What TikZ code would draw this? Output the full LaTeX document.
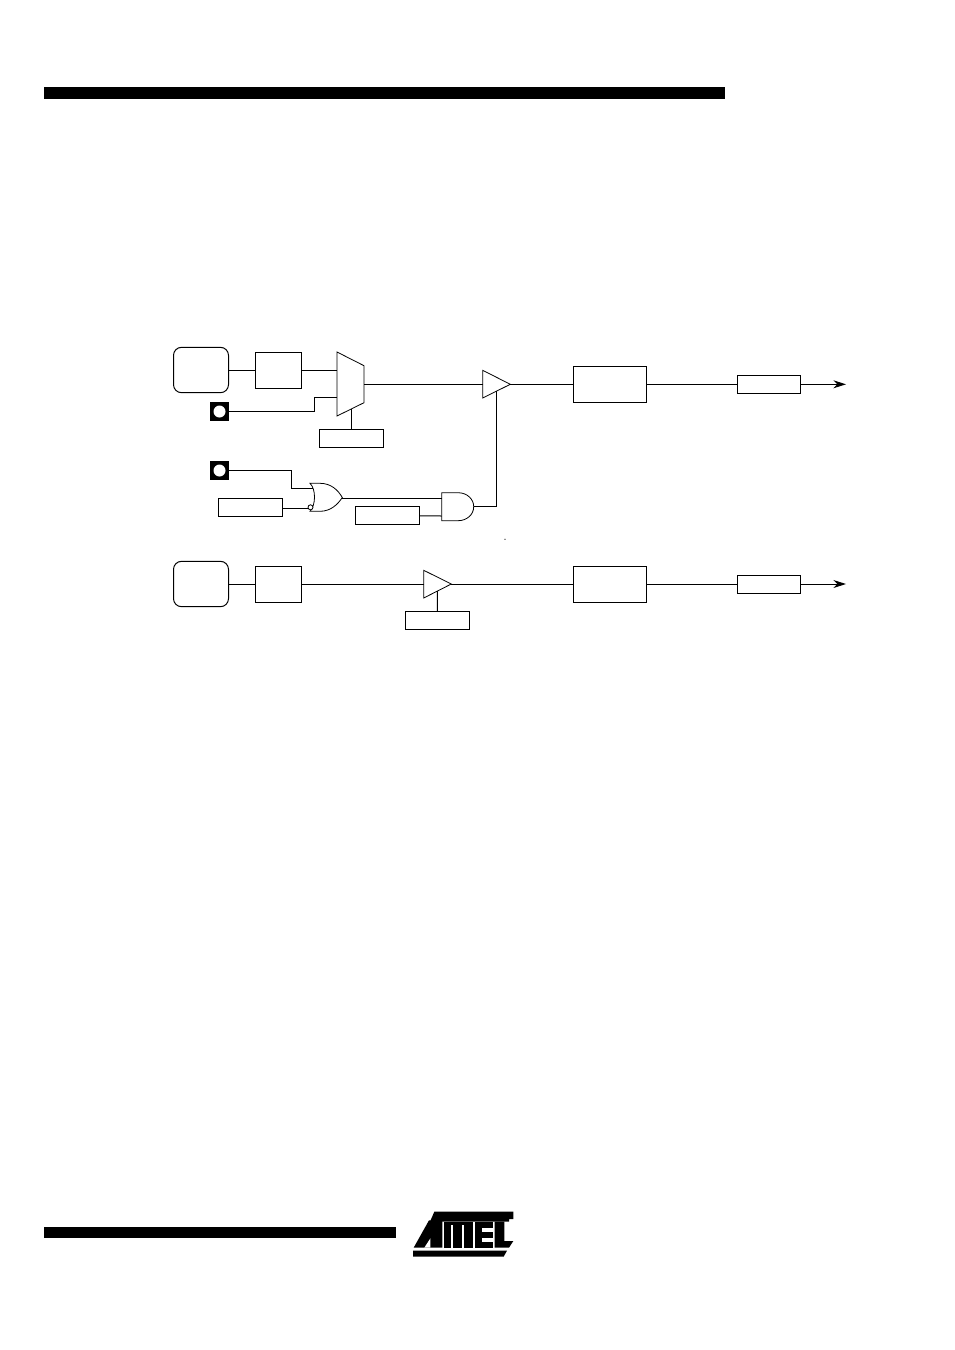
\documentclass[tikz,border=0pt]{standalone}
\usepackage{tikz}
\usepackage{xcolor}
\usetikzlibrary{arrows.meta}
\tikzset{
  blk/.style={draw,line width=0.75pt,inner sep=0pt,outer sep=0pt},
  srcbox/.style={blk,rounded corners=6pt,minimum width=41.25pt,minimum height=34pt},
  regbox/.style={blk,minimum width=34.5pt,minimum height=27pt},
  latchbox/.style={blk,minimum width=55pt,minimum height=27pt},
  ctlbox/.style={blk,minimum width=47.75pt,minimum height=13.5pt},
  padbox/.style={fill=black,inner sep=0pt,outer sep=0pt,minimum size=14.25pt},
  padhole/.style={circle,fill=white,inner sep=0pt,minimum size=9pt},
  wire/.style={line width=0.75pt},
  outwire/.style={wire,-{Stealth[length=9.5pt,width=6pt]}},
  gate/.style={line width=0.6pt,line join=miter}
}
\begin{document}
\begin{tikzpicture}[x=0.75pt,y=-0.75pt]
\useasboundingbox (0,0) rectangle (954,1350);
\fill (44,87) rectangle (725,99);
\fill (44,1227) rectangle (396,1238);
\node[srcbox] (srcA) at (201,370) {};
\node[regbox] (regA) at (278.5,370) {};
\node[padbox] (padA) at (219.5,411.5) {};
\node[padhole] at (padA) {};
\node[ctlbox] (selA) at (351.3,438.3) {};
\node[padbox] (padB) at (219.5,470.5) {};
\node[padhole] at (padB) {};
\node[ctlbox] (ctlA) at (250.8,507.3) {};
\node[ctlbox] (ctlB) at (387.3,515.8) {};
\node[latchbox] (drvA) at (610,384.3) {};
\node[ctlbox] (pinA) at (769,384.3) {};
\node[srcbox] (srcB) at (201,584) {};
\node[regbox] (regB) at (278.5,584) {};
\node[ctlbox] (ctlC) at (437.3,620.3) {};
\node[latchbox] (drvB) at (610,584) {};
\node[ctlbox] (pinB) at (769,584) {};
% mux
\draw[gate] (337,352) -- (364,365.7) -- (364,402.7) -- (337,416) -- cycle;
\coordinate (muxa) at (337,370);
\coordinate (muxb) at (337,397);
\coordinate (muxs) at (351.5,409);
\coordinate (muxo) at (364,384.3);
% buffers
\draw[gate] (482.7,370.3) -- (510.3,384.3) -- (482.7,398) -- cycle;
\coordinate (bufAi) at (482.7,384.3);
\coordinate (bufAo) at (510.3,384.3);
\coordinate (bufAc) at (496.5,391.3);
\draw[gate] (423.7,570.3) -- (451.3,584) -- (423.7,598) -- cycle;
\coordinate (bufBi) at (423.7,584);
\coordinate (bufBo) at (451.3,584);
\coordinate (bufBc) at (437.5,591);
% or gate
\draw[gate] (310,483.3) .. controls (316,489) and (316,505) .. (310,511.3)
  -- (320,511.3) .. controls (331,511.3) and (338,504) .. (342.3,497.5)
  .. controls (338,490) and (331,483.3) .. (320,483.3) -- cycle;
\draw[gate,fill=white] (310.5,507.3) circle (2.5);
\coordinate (orA) at (313,488.7);
\coordinate (orB) at (308,508);
\coordinate (orO) at (342.3,498);
% and gate
\draw[gate] (441.7,492.7) -- (458,492.7) .. controls (467,492.7) and (473.7,499) .. (473.7,506.7)
  .. controls (473.7,514.5) and (467,520.7) .. (458,520.7) -- (441.7,520.7) -- cycle;
\coordinate (andA) at (441.7,498);
\coordinate (andB) at (441.7,516);
\coordinate (andO) at (473.7,506.3);
\draw[wire] (srcA.east) -- (regA.west);
\draw[wire] (regA.east) -- (muxa);
\draw[wire] (padA.east) -- (314.3,411.5) |- (muxb);
\draw[wire] (muxs) -- (muxs |- selA.north);
\draw[wire] (muxo) -- (bufAi);
\draw[wire] (bufAo) -- (drvA.west);
\draw[wire] (drvA.east) -- (pinA.west);
\draw[outwire] (pinA.east) -- (846,384.3);
\draw[wire] (padB.east) -- (291.7,470.5) |- (orA);
\draw[wire] (ctlA.east |- orB) -- (orB);
\draw[wire] (orO) -- (andA);
\draw[wire] (ctlB.east) -- (andB);
\draw[wire] (andO) -| (bufAc);
\draw[wire] (srcB.east) -- (regB.west);
\draw[wire] (regB.east) -- (bufBi);
\draw[wire] (bufBc) -- (ctlC.north);
\draw[wire] (bufBo) -- (drvB.west);
\draw[wire] (drvB.east) -- (pinB.west);
\draw[outwire] (pinB.east) -- (846,584);
\fill (505,539.3) circle (0.6);
% logo
\begin{scope}[shift={(405,1205)},x=0.25pt,y=-0.25pt]
\fill (88,20) -- (325,20) -- (325,42) -- (312,42) -- (312,50) -- (75,50) -- cycle;
\fill (72,46) -- (112,46) -- (112,128) -- (26,128) -- cycle;
\fill (118,50) -- (204,50) -- (204,128) -- (118,128) -- cycle;
\fill (210,50) -- (264,50) -- (264,128) -- (210,128) -- cycle;
\fill (269,50) -- (298,50) -- (298,108) -- (325,108) -- (312,128) -- (269,128) -- cycle;
\fill (24,137) -- (306,137) -- (296,155) -- (24,155) -- cycle;
\fill[white] (58,128) -- (76,100) -- (76,128) -- cycle;
\fill[white] (138,60) -- (144,60) -- (144,128) -- (138,128) -- cycle;
\fill[white] (172,60) -- (178,60) -- (178,128) -- (172,128) -- cycle;
\fill[white] (232,70) -- (264,70) -- (264,82) -- (232,82) -- cycle;
\fill[white] (232,98) -- (264,98) -- (264,110) -- (232,110) -- cycle;
\end{scope}
\end{tikzpicture}
\end{document}
